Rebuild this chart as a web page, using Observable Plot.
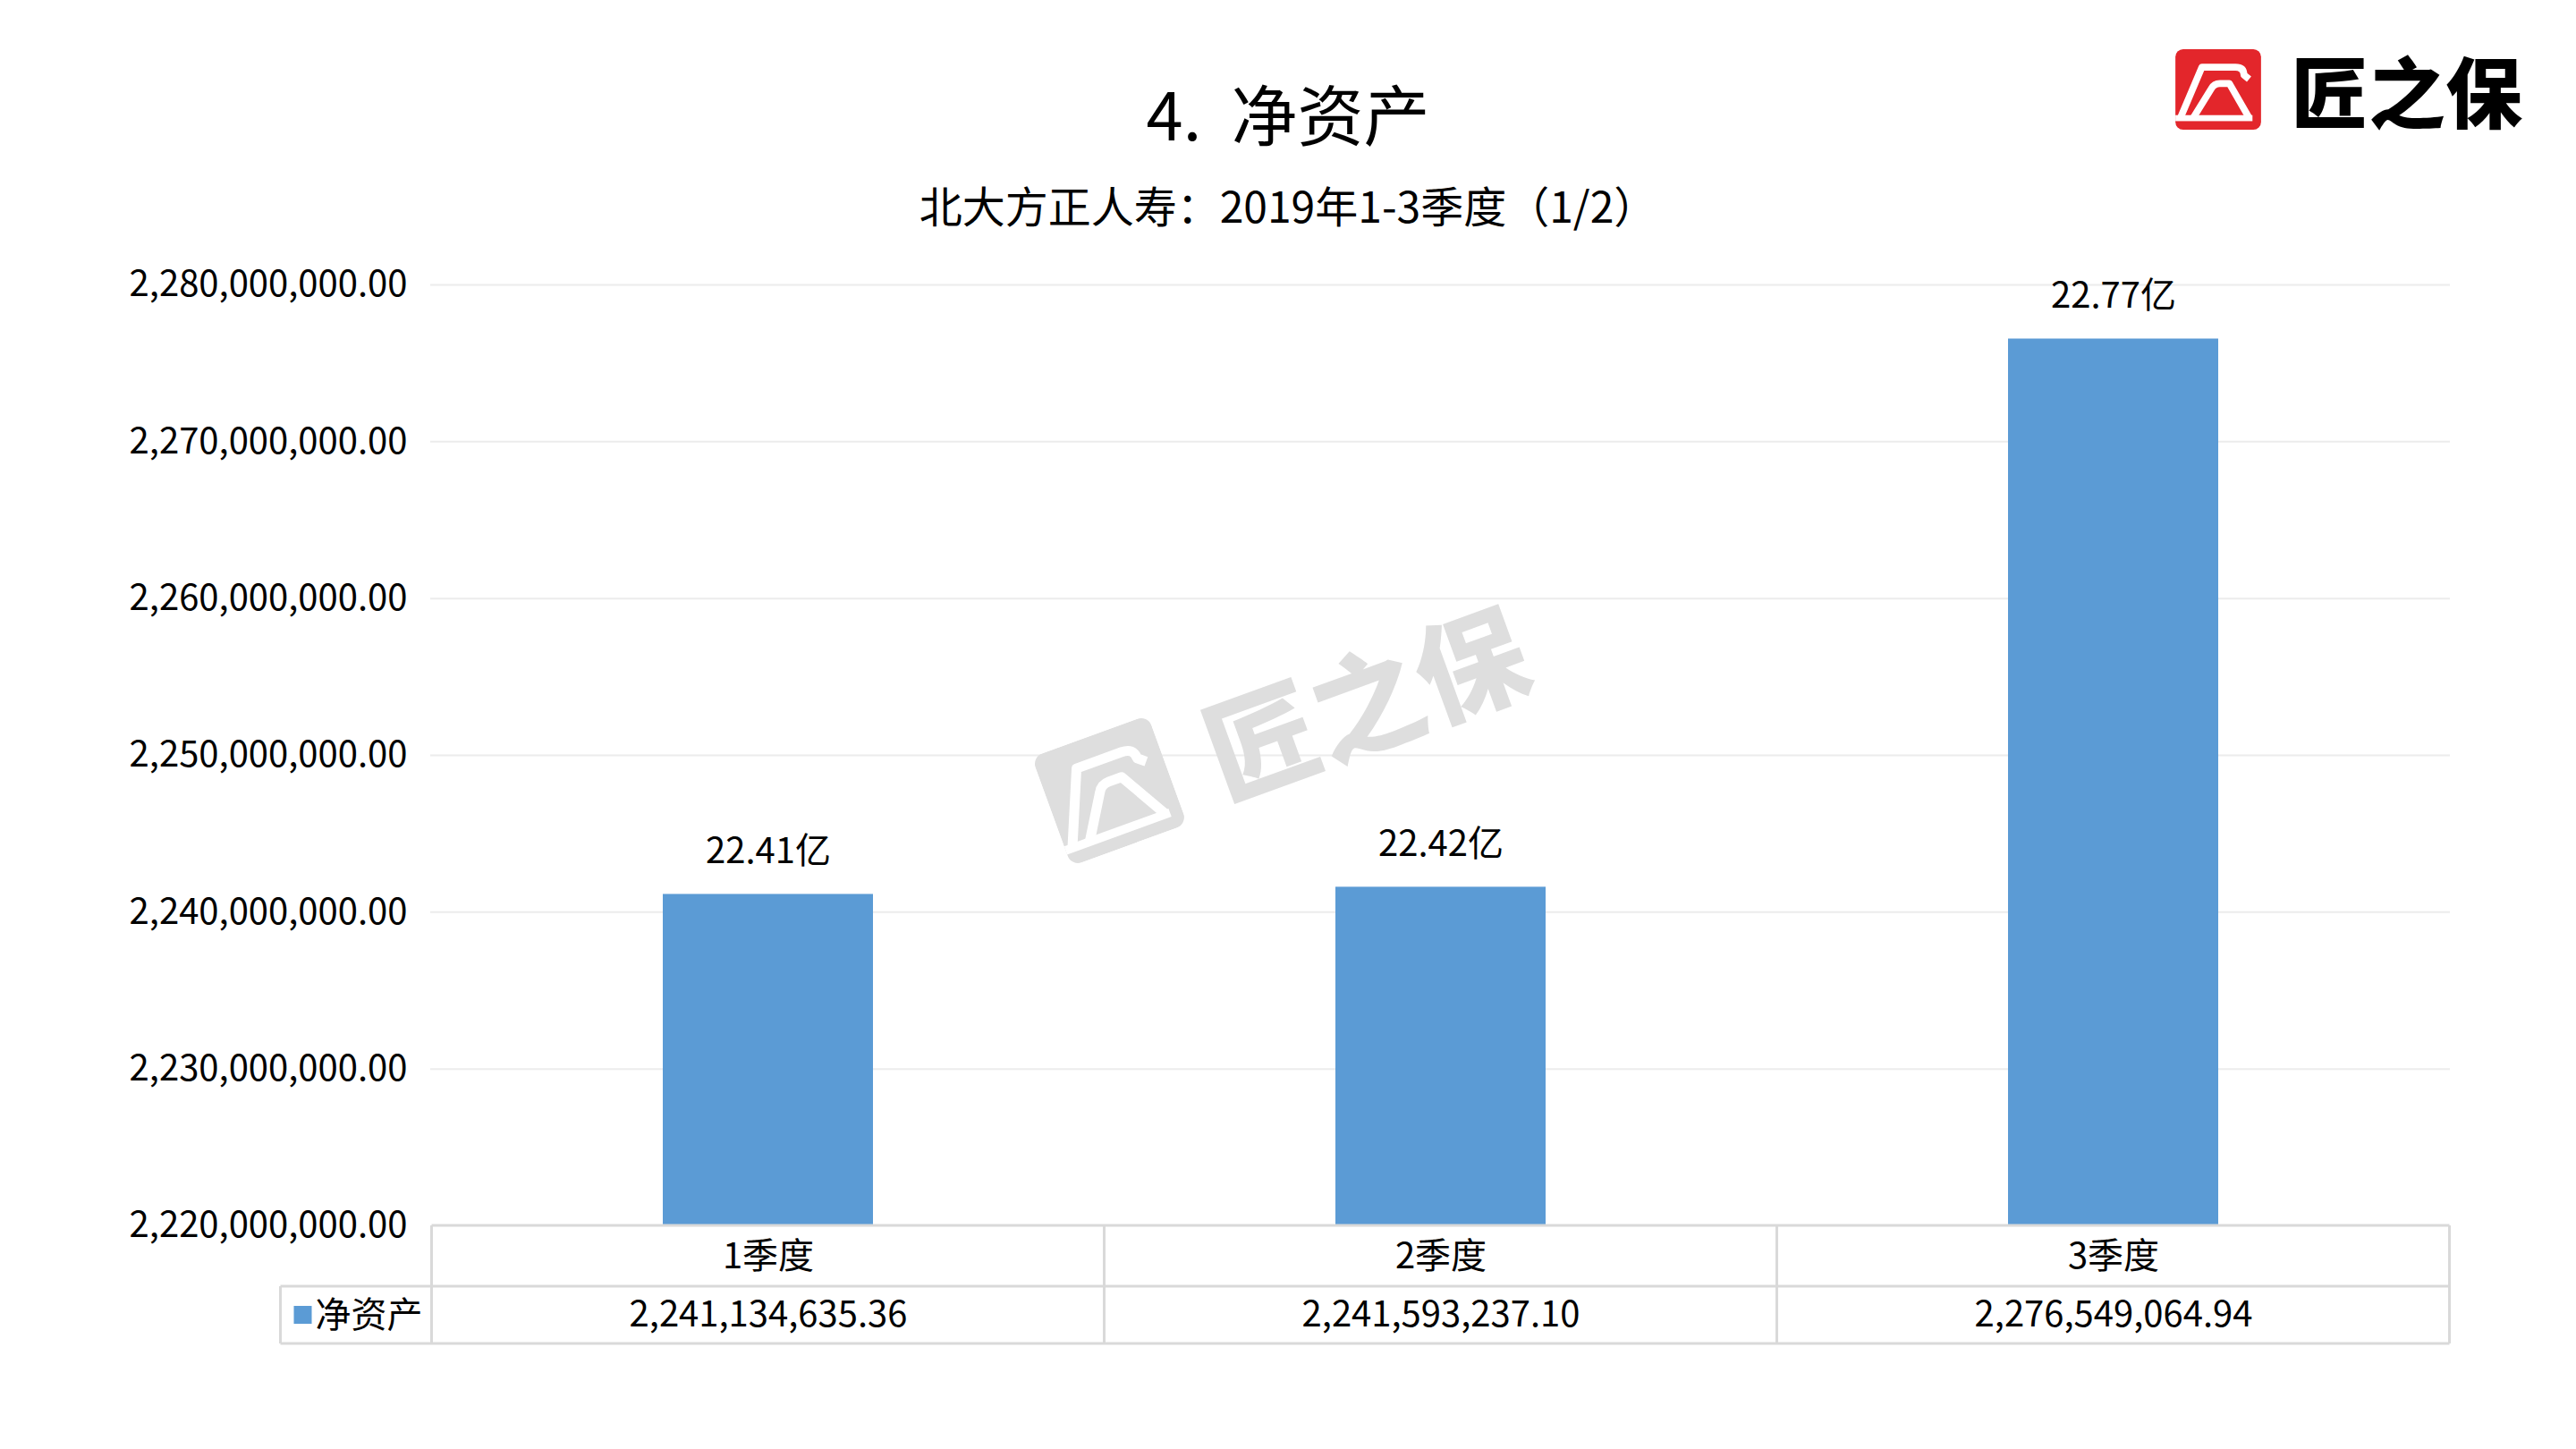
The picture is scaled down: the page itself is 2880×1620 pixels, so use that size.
<!DOCTYPE html>
<html>
<head>
<meta charset="utf-8">
<script src="https://cdn.jsdelivr.net/npm/d3@7"></script>
<script src="https://cdn.jsdelivr.net/npm/@observablehq/plot@0.6"></script>
<style>
  html, body { margin: 0; padding: 0; background: #fff; }
  body { width: 2880px; height: 1620px; position: relative; overflow: hidden;
         font-family: "Noto Sans CJK SC", "Noto Sans", sans-serif; color: #000; }
  #header { position: relative; width: 2880px; height: 270px; }
  #title { position: absolute; left: 0; top: 88px; width: 2880px; text-align: center;
           font-size: 74px; line-height: 74px; white-space: pre; }
  #subtitle { position: absolute; left: 0; top: 204px; width: 2880px; text-align: center;
              font-size: 48px; line-height: 48px; white-space: pre; }
  #logo { position: absolute; left: 2432px; top: 55px; height: 90px; display: flex; align-items: center; }
  #logo .brand { font-size: 86px; line-height: 90px; font-weight: 900; margin-left: 34px; letter-spacing: 0px; }
  #chart { position: absolute; left: 0; top: 270px; }
  #watermark { position: absolute; left: 1438px; top: 812px; width: 0; height: 0; pointer-events: none; }
  #watermark .inner { position: absolute; transform: translate(-50%, -50%) rotate(-20deg) scale(1.44);
                      display: flex; align-items: center; white-space: nowrap; }
  #watermark .brand { font-size: 86px; line-height: 90px; font-weight: 900; margin-left: 34px; color: #dedede; }
</style>
</head>
<body>
<div id="header">
  <div id="title"></div>
  <div id="subtitle"></div>
  <div id="logo"></div>
</div>
<div id="chart"></div>
<div id="watermark"><div class="inner"></div></div>
<script>
// ---- data ----
const categories = ["1季度", "2季度", "3季度"];
const netAssets = [2241134635.36, 2241593237.10, 2276549064.94];
const seriesName = "净资产";
const yTicks = [2220000000, 2230000000, 2240000000, 2250000000, 2260000000, 2270000000, 2280000000];
const titleText = "4.  净资产";
const subtitleText = "北大方正人寿：2019年1-3季度（1/2）";
const brandText = "匠之保";

// ---- header ----
document.getElementById("title").textContent = titleText;
document.getElementById("subtitle").textContent = subtitleText;

function logoMark(bg, w, h) {
  return `<svg width="${w}" height="${h}" viewBox="0 0 100 94">
    <rect x="0" y="0" width="100" height="94" rx="9" fill="${bg}"/>
    <g fill="none" stroke="#fff" stroke-width="8" stroke-linejoin="round" stroke-linecap="butt">
      <path d="M6,80 L31,21 L70,21 Q80,21 80,30 L86,35"/>
      <path d="M21,80 L42,46 Q45,40 52,40 L63,40 L86,80"/>
    </g>
    <rect x="0" y="77" width="90" height="7" fill="#fff"/>
  </svg>`;
}
const logo = document.getElementById("logo");
logo.innerHTML = logoMark("#e3262b", 96, 90) + `<span class="brand"></span>`;
logo.querySelector(".brand").textContent = brandText;

const wm = document.querySelector("#watermark .inner");
wm.innerHTML = logoMark("#dedede", 96, 90) + `<span class="brand"></span>`;
wm.querySelector(".brand").textContent = brandText;

// ---- chart ----
const rows = categories.map((c, i) => ({category: c, value: netAssets[i]}));
const fmtAxis = d3.format(",.2f");
const fmtLabel = v => (v / 1e8).toFixed(2) + "亿";
const yMin = yTicks[0], yMax = yTicks[yTicks.length - 1];
const barColor = "#5b9bd5";

const W = 2880, H = 1350;
const mL = 481, mR = 141, mT = 48, mB = 250;
const font = "'Noto Sans CJK SC', 'Noto Sans', sans-serif";

const plot = Plot.plot({
  width: W, height: H,
  marginLeft: mL, marginRight: mR, marginTop: mT, marginBottom: mB,
  style: {fontFamily: font, fontSize: "40px", color: "#000", background: "transparent", overflow: "visible"},
  x: {domain: categories, paddingInner: 0.688, paddingOuter: 0.344, axis: null},
  y: {domain: [yMin, yMax], axis: null},
  marks: [
    Plot.gridY(yTicks.slice(1), {stroke: "#ececec", strokeOpacity: 1, strokeWidth: 2}),
    Plot.axisY(yTicks, {tickSize: 0, tickPadding: 26, tickFormat: fmtAxis, fontSize: 40, label: null, fill: "#000"}),
    Plot.barY(rows, {x: "category", y1: () => yMin, y2: "value", fill: barColor}),
    Plot.text(rows, {x: "category", y: "value", text: d => fmtLabel(d.value), dy: -48, fontSize: 40, fill: "#000"}),
    Plot.text(rows, {x: "category", text: "category", frameAnchor: "bottom", lineAnchor: "middle", dy: 35, fontSize: 40, fill: "#000"}),
    Plot.text(rows, {x: "category", text: d => fmtAxis(d.value), frameAnchor: "bottom", lineAnchor: "middle", dy: 100, fontSize: 40, fill: "#000"})
  ]
});
document.getElementById("chart").appendChild(plot);

// ---- data table grid & legend ----
const svg = d3.select(plot);
const xs = plot.scale("x");
const step = xs.apply(categories[1]) - xs.apply(categories[0]);
const centers = categories.map(c => xs.apply(c) + xs.bandwidth / 2);
const edges = [centers[0] - step / 2, ...centers.map(c => c + step / 2)];
const yTop = H - mB, yRow1 = yTop + 68, yRow2 = yRow1 + 64;
const legendLeft = edges[0] - 169;
const right = edges[edges.length - 1];
const g = svg.append("g").attr("stroke", "#d9d9d9").attr("stroke-width", 3).attr("fill", "none");
g.append("line").attr("x1", edges[0]).attr("x2", right).attr("y1", yTop).attr("y2", yTop);
g.append("line").attr("x1", legendLeft).attr("x2", right).attr("y1", yRow1).attr("y2", yRow1);
g.append("line").attr("x1", legendLeft).attr("x2", right).attr("y1", yRow2).attr("y2", yRow2);
edges.forEach(e => g.append("line").attr("x1", e).attr("x2", e).attr("y1", yTop).attr("y2", yRow2));
g.append("line").attr("x1", legendLeft).attr("x2", legendLeft).attr("y1", yRow1).attr("y2", yRow2);

const midRow2 = (yRow1 + yRow2) / 2;
svg.append("rect").attr("x", legendLeft + 15).attr("y", midRow2 - 10).attr("width", 20).attr("height", 20).attr("fill", barColor);
svg.append("text").attr("x", legendLeft + 39).attr("y", midRow2).attr("dy", "0.35em")
  .attr("text-anchor", "start")
  .attr("font-size", 40).attr("fill", "#000").attr("font-family", font).text(seriesName);
</script>
</body>
</html>
